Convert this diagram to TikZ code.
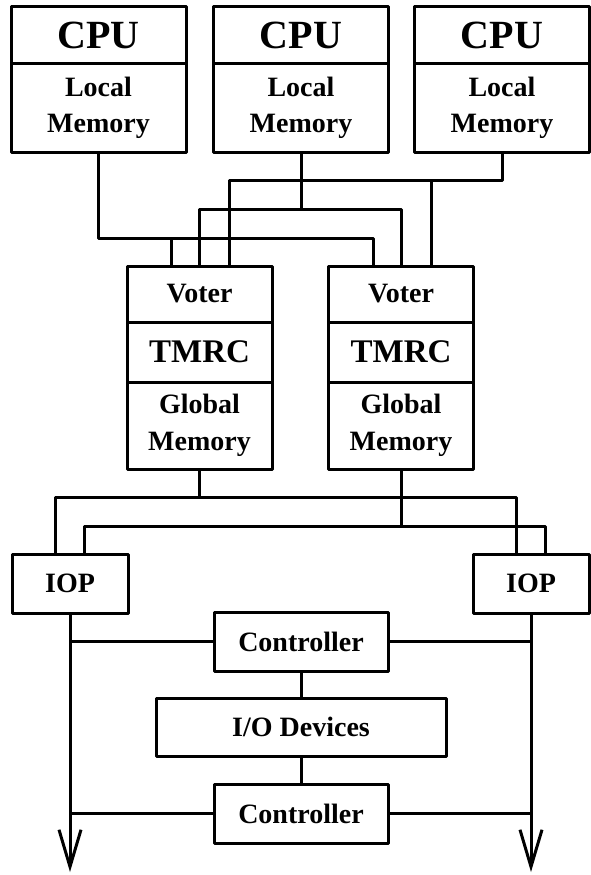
\documentclass[tikz,border=0pt]{standalone}
\usepackage{fontspec}
\setmainfont{Liberation Serif}
\usetikzlibrary{positioning,arrows.meta}

\begin{document}
\begin{tikzpicture}[x=1pt,y=-1pt,line width=3pt,line join=round,
  font=\fontsize{28}{36}\selectfont\bfseries,
  box/.style={draw,rectangle,inner sep=0pt,outer sep=0pt,align=center},
  cpubox/.style={box,minimum width=175pt,minimum height=57pt,font=\fontsize{40}{40}\selectfont\bfseries},
  lmbox/.style={box,minimum width=175pt,minimum height=88pt},
  votebox/.style={box,minimum width=145pt,minimum height=56pt},
  tmrcbox/.style={box,minimum width=145pt,minimum height=60pt,font=\fontsize{33}{33}\selectfont\bfseries},
  gmbox/.style={box,minimum width=145pt,minimum height=87pt,font=\fontsize{28}{37}\selectfont\bfseries},
  iopbox/.style={box,minimum width=116pt,minimum height=59pt},
  ctlbox/.style={box,minimum width=174pt,minimum height=59pt},
  bus/.style={-{Straight Barb[length=37pt,width=22pt]}}
]
\useasboundingbox (0,0) rectangle (591,875);

% the CPUs with their local memories
\node[cpubox] (cpu1) at (98.5,35.5) {CPU};
\node[lmbox,below=0pt of cpu1] (lm1) {Local\\Memory};
\node[cpubox] (cpu2) at (301,35.5) {CPU};
\node[lmbox,below=0pt of cpu2] (lm2) {Local\\Memory};
\node[cpubox] (cpu3) at (502,35.5) {CPU};
\node[lmbox,below=0pt of cpu3] (lm3) {Local\\Memory};

% the two voter / TMRC / global memory stacks
\node[votebox] (vt1) at (199.5,294) {Voter};
\node[tmrcbox,below=0pt of vt1] (tm1) {TMRC};
\node[gmbox,below=0pt of tm1] (gm1) {Global\\Memory};
\node[votebox] (vt2) at (401,294) {Voter};
\node[tmrcbox,below=0pt of vt2] (tm2) {TMRC};
\node[gmbox,below=0pt of tm2] (gm2) {Global\\Memory};

% the I/O processors
\node[iopbox] (iop1) at (70,583.5) {IOP};
\node[iopbox] (iop2) at (531,583.5) {IOP};

% controllers and devices
\node[ctlbox] (ctl1) at (301,641.5) {Controller};
\node[box,minimum width=290pt,minimum height=58pt] (io) at (301,727) {I/O Devices};
\node[ctlbox] (ctl2) at (301,813.5) {Controller};

% CPUs to voters
\coordinate (c1l) at (171,238);
\coordinate (c1r) at (373,238);
\draw (lm1.south) |- (c1r) -- (c1r |- vt2.north);
\draw (c1l) -- (c1l |- vt1.north);

\coordinate (c2) at (301,209);
\draw (vt1.north) |- (c2) -| (vt2.north);
\draw (lm2.south) -- (c2);

\coordinate (c3l) at (229,180);
\coordinate (c3r) at (431,180);
\draw (lm3.south) |- (c3l) -- (c3l |- vt1.north);
\draw (c3r) -- (c3r |- vt2.north);

% global memories to IOPs
\coordinate (m1) at (199.5,497);
\draw (gm1.south) -- (m1);
\draw ([xshift=-14.5pt]iop1.north) |- (m1) -| ([xshift=-14.5pt]iop2.north);
\coordinate (m2) at (401,526);
\draw (gm2.south) -- (m2);
\draw ([xshift=14.5pt]iop1.north) |- (m2) -| ([xshift=14.5pt]iop2.north);

% the two I/O buses
\coordinate (e1) at (70,872);
\coordinate (e2) at (531,872);
\draw[bus] (iop1.south) -- (e1);
\draw[bus] (iop2.south) -- (e2);

\draw (ctl1.west) -- (ctl1.west -| e1);
\draw (ctl1.east) -- (ctl1.east -| e2);
\draw (ctl2.west) -- (ctl2.west -| e1);
\draw (ctl2.east) -- (ctl2.east -| e2);
\draw (ctl1) -- (io);
\draw (io) -- (ctl2);
\end{tikzpicture}
\end{document}
